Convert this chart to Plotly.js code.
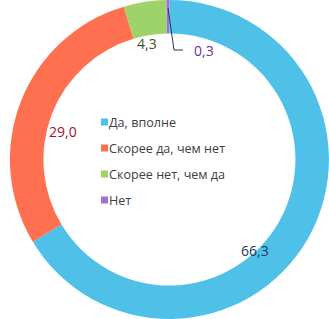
<!DOCTYPE html>
<html>
<head>
<meta charset="utf-8">
<script src="https://cdn.plot.ly/plotly-3.0.1.min.js"></script>
<style>html,body{margin:0;padding:0;background:#fff;}#chart{width:329px;height:319px;}</style>
</head>
<body>
<div id="chart"></div>
<script>
const categories = ["Да, вполне", "Скорее да, чем нет", "Скорее нет, чем да", "Нет"];
const values = [66.3, 29.0, 4.3, 0.3];
const valueLabels = ["66,3", "29,0", "4,3", "0,3"];
const sliceColors = ["#4FC1E9", "#FF7050", "#9ED36A", "#A070D8"];
const labelColors = ["#1F3864", "#A0122C", "#375623", "#7030A0"];

const FONT = "Open Sans, Noto Sans, sans-serif";

const trace = {
  type: "pie",
  labels: categories,
  values: values,
  hole: 0.79,
  sort: false,
  direction: "clockwise",
  rotation: 0,
  textinfo: "none",
  hoverinfo: "label+value",
  marker: {colors: sliceColors, line: {width: 0}},
  domain: {x: [0.03, 1], y: [0, 1]},
  showlegend: false
};

// value label placements (paper coords)
const labelPos = [[0.776, 0.216], [0.190, 0.589], [0.447, 0.865], [0.619, 0.843]];
const annotations = valueLabels.map((t, i) => ({
  xref: "paper", yref: "paper", x: labelPos[i][0], y: labelPos[i][1],
  text: t, showarrow: false, xanchor: "center", yanchor: "middle",
  font: {family: FONT, size: 14, color: labelColors[i]}
}));

// manual legend
const legX = 0.326, legTop = 122, legStep = 26;
const shapes = [];
categories.forEach((c, i) => {
  const yPx = legTop + i * legStep;
  annotations.push({
    xref: "paper", yref: "paper", x: legX, y: 1 - yPx / 319,
    text: c, showarrow: false, xanchor: "left", yanchor: "middle",
    font: {family: FONT, size: 12.6, color: "#404040"}
  });
  shapes.push({
    type: "rect", xref: "paper", yref: "paper",
    x0: 101 / 329, x1: 108 / 329, y0: 1 - (yPx + 3.5) / 319, y1: 1 - (yPx - 3.5) / 319,
    fillcolor: sliceColors[i], line: {width: 0}
  });
});

// leader line for the small slice
shapes.push({
  type: "path", xref: "paper", yref: "paper",
  path: "M " + (168/329) + " " + (1 - 8/319) + " L " + (174/329) + " " + (1 - 50/319) + " L " + (183/329) + " " + (1 - 50/319),
  line: {color: "#1F3864", width: 1}
});

const layout = {
  width: 329, height: 319,
  margin: {l: 0, r: 0, t: 0, b: 0},
  paper_bgcolor: "#ffffff",
  showlegend: false,
  annotations: annotations,
  shapes: shapes
};

Plotly.newPlot("chart", [trace], layout, {displayModeBar: false, staticPlot: true});
</script>
</body>
</html>
